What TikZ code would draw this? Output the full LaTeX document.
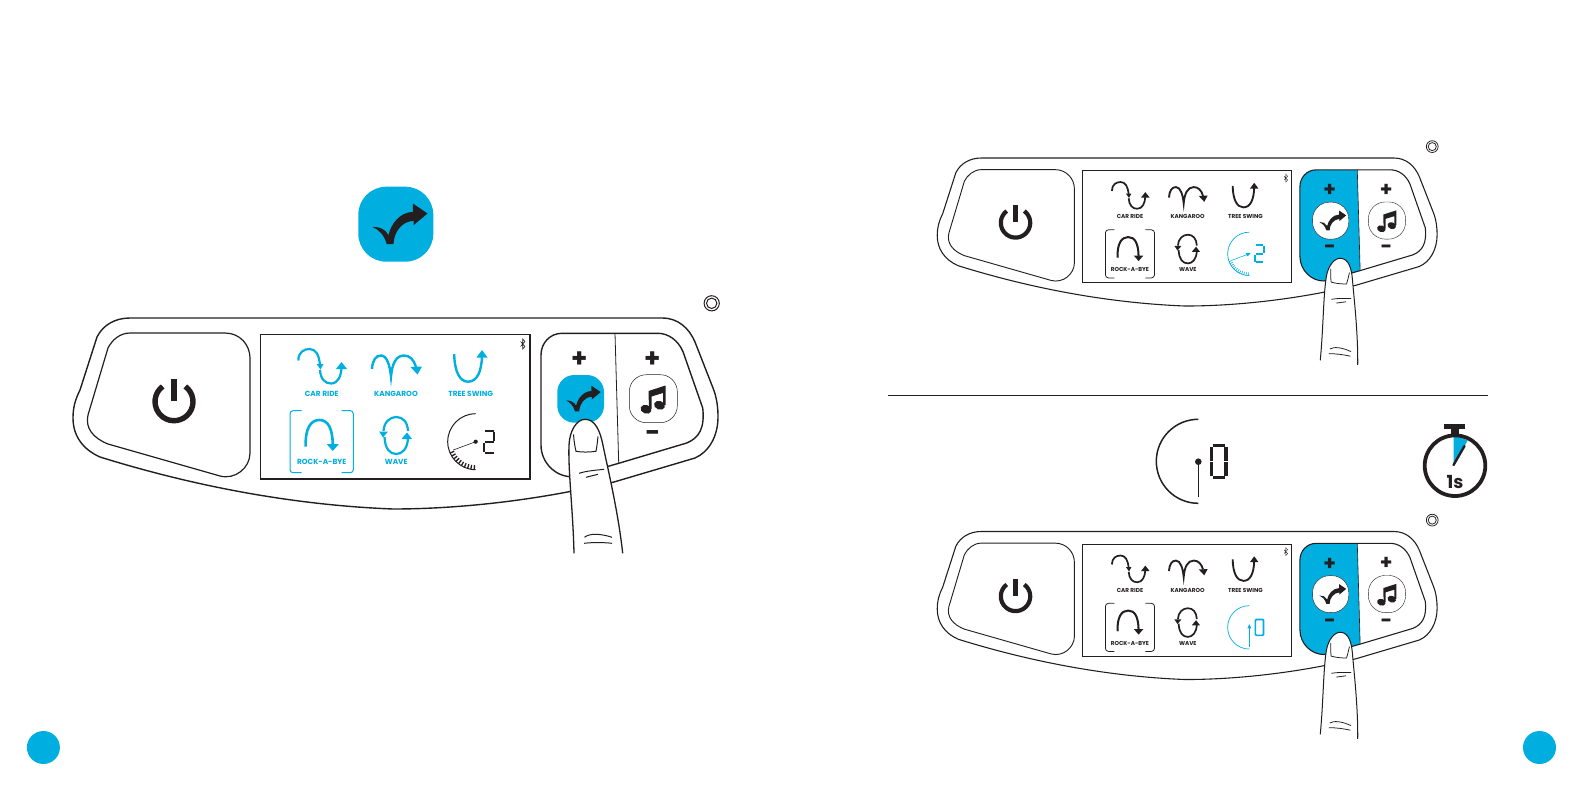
\documentclass[tikz,border=0pt]{standalone}
\usepackage{fontspec}
\setmainfont{Poppins}
\definecolor{cy}{HTML}{00AEE0}
\definecolor{ink}{HTML}{231F20}
\tikzset{
  lab/.style={font=\bfseries\fontsize{7.4}{8}\selectfont,inner sep=0pt,transform shape},
  sign/.style={font=\bfseries\fontsize{26}{26}\selectfont,inner sep=0pt,text=ink,transform shape},
  outl/.style={draw=ink,line width=1.4pt*\ps},
  thin outl/.style={draw=ink,line width=0.5pt*\ps}
}
\def\ps{1}
% arrow icon, centred on the button, drawn at the 75px size
\newcommand{\arrowicon}[1]{\fill[#1] (-23.3,2.7) .. controls (-17,5.5) and (-12,10) .. (-9,20) -- (-2.3,20) .. controls (-2,8) and (6,-3) .. (17.7,-3.3) -- (17.7,1) -- (31.7,-10.7) -- (17,-20.7) -- (17,-12.3) .. controls (4,-12) and (-5,0) .. (-7.3,11) .. controls (-10,5) and (-17,2.3) .. (-23.3,2.7) -- cycle;}
% seven segment digits, box 11 x 22
\newcommand{\digittwo}{\draw (1,0) -- (10,0) (10.8,1) -- (10.8,10) (1,11) -- (10,11) (0,12) -- (0,21) (1,22) -- (10,22);}
\newcommand{\digitzero}{\draw (1,0) -- (10,0) (10.8,1) -- (10.8,10.6) (10.8,11.4) -- (10.8,21) (0,1) -- (0,10.6) (0,11.4) -- (0,21) (1,22) -- (10,22);}
% gauge variants (in panel coordinates)
\newcommand{\gaugeblack}{%
  \draw[ink,line width=1pt*\ps] (475.7,413.7) arc[start angle=270,end angle=90,radius=28];
  \foreach \a in {93,100,...,160} \draw[ink,line width=1.3pt*\ps] ({475.7+23.5*cos(\a)},{441.7+23.5*sin(\a)}) -- ({475.7+28*cos(\a)},{441.7+28*sin(\a)});
  \fill[ink] (475.7,441.7) circle (2.1);
  \draw[ink,line width=0.6pt*\ps] (475.7,441.7) -- (453.3,450);
  \begin{scope}[shift={(483.5,430.7)},line width=2pt*\ps,ink]\digittwo\end{scope}}
\newcommand{\gaugeblue}{%
  \draw[cy,line width=0.9pt*\ps] (475.7,413.7) arc[start angle=270,end angle=90,radius=28];
  \foreach \a in {93,99,...,160} \draw[cy,line width=0.8pt*\ps] ({475.7+24*cos(\a)},{441.7+24*sin(\a)}) -- ({475.7+28*cos(\a)},{441.7+28*sin(\a)});
  \fill[cy] (477.5,441) -- (471,440.3) -- (473,445) -- cycle;
  \draw[cy,line width=0.7pt*\ps] (475,441.7) -- (453.3,450);
  \begin{scope}[shift={(483.5,430.7)},line width=2.6pt*\ps,cy]\digittwo\end{scope}}
\newcommand{\gaugezero}{%
  \draw[cy,line width=0.9pt*\ps] (475.7,413.7) arc[start angle=270,end angle=90,radius=28];
  \fill[cy] (475.7,437.5) -- (473.2,443) -- (478.2,443) -- cycle;
  \draw[cy,line width=0.8pt*\ps] (475.7,441) -- (475.7,467);
  \draw[cy,line width=2.2pt*\ps,rounded corners=1pt] (483.5,431.5) rectangle (494,452);}
% panel: #1 name, #2 icon colour, #3 gauge, #4 left pad fill, #5 arrow-button fill, #6 arrow colour, #7 border style of arrow button
\newcommand{\panel}[7]{%
  % outer shell
  \draw[outl] (130,318) -- (662,318) .. controls (678,318) and (689,328) .. (695,342) -- (713,388) .. controls (717,398) and (718,408) .. (718,417) .. controls (718,436) and (709,452) .. (695,458) -- (614,482) .. controls (540,500) and (460,509) .. (393,509) .. controls (290,505) and (190,485) .. (100,457) .. controls (82,449) and (73,435) .. (73,418) .. controls (73,408) and (75,400) .. (80,390) -- (97,337) .. controls (103,325) and (115,318) .. (130,318);
  % power pad
  \draw[ink,line width=1.2pt*\ps] (130,333) -- (225,333) .. controls (240,333) and (250,345) .. (250,358) -- (250,453) .. controls (250,468) and (235,480) .. (220,476) -- (108,444) .. controls (93,438) and (85,428) .. (88,415) -- (108,348) .. controls (112,340) and (120,333) .. (130,333);
  \draw[ink,line width=5.4pt*\ps] ([shift={(-53.5:19)}]174,401.7) arc[start angle=-53.5,end angle=233.5,radius=19];
  \fill[ink] (171,379) rectangle (177,400.7);
  % screen
  \draw[ink,line width=1.1pt*\ps] (260.5,334.5) rectangle (530,479);
  % bluetooth
  \draw[ink,line width=0.6pt*\ps] (520.5,341.5) -- (525,346.5) -- (522.7,349) -- (522.7,339) -- (525,341.5) -- (520.5,346.5);
  % car ride
  \draw[#2,line width=2.2pt*\ps] (298.3,360.5) .. controls (298.5,352) and (304,349) .. (309.5,349) .. controls (316,349) and (319,355) .. (320,365);
  \fill[#2] (320.5,369.5) -- (316.5,364) -- (323.5,364) -- cycle;
  \draw[#2,line width=2.2pt*\ps] (320,370) .. controls (320.5,379) and (325,383.5) .. (331,383.5) .. controls (338,383.5) and (341,376) .. (341.5,368);
  \fill[#2] (341.5,362) -- (336,369) -- (347,369) -- cycle;
  \node[lab,text=#2] (#1-car) at (321.7,393.7) {CAR RIDE};
  % kangaroo
  \draw[#2,line width=2.4pt*\ps] (372,369) .. controls (372.5,360) and (376,355.5) .. (381,355.5) .. controls (387,355.5) and (390,366) .. (391,376.7) .. controls (392,364) and (396,355.5) .. (404,355.5) .. controls (410,355.5) and (414,360) .. (416,367);
  \fill[#2] (417.5,374.5) -- (422,366.5) -- (410.5,367) -- cycle;
  \node[lab,text=#2] (#1-kan) at (396,393.7) {KANGAROO};
  % tree swing
  \draw[#2,line width=2.4pt*\ps] (454.2,354) .. controls (454.5,372) and (460,381.7) .. (468,381.7) .. controls (477,381.7) and (481.5,372) .. (482,356);
  \fill[#2] (482,350) -- (476.5,357.5) -- (487.5,357.5) -- cycle;
  \node[lab,text=#2] (#1-tre) at (470.7,393.7) {TREE SWING};
  % rock-a-bye
  \draw[#2,line width=2.6pt*\ps] (305.7,446.7) .. controls (305,428) and (311,420) .. (319.3,420) .. controls (328,420) and (332.5,428) .. (332.8,445);
  \fill[#2] (332.8,451) -- (326.7,444) -- (338.9,444) -- cycle;
  \draw[#2,line width=1pt*\ps,rounded corners=3pt] (301.7,410.7) -- (290,410.7) -- (290,472.7) -- (301.7,472.7);
  \draw[#2,line width=1pt*\ps,rounded corners=3pt] (341.7,410.7) -- (353.3,410.7) -- (353.3,472.7) -- (341.7,472.7);
  \node[lab,text=#2] (#1-roc) at (321.7,462.3) {ROCK-A-BYE};
  % wave
  \draw[#2,line width=2.2pt*\ps] (383.5,431) .. controls (384,422) and (390,417) .. (396.3,417) .. controls (403,417) and (407.5,422) .. (408,431);
  \fill[#2] (383,437.5) -- (379,431.5) -- (388,431.5) -- cycle;
  \draw[#2,line width=2.2pt*\ps] (408,438) .. controls (407.5,449) and (402,454) .. (396.3,454) .. controls (390,454) and (385,449) .. (384.5,437);
  \fill[#2] (407,432.5) -- (401.5,439) -- (412,439) -- cycle;
  \node[lab,text=#2] (#1-wav) at (396.3,462.3) {WAVE};
  #3
  % pads
  \fill[#4] (615,333.3) -- (562,333.3) .. controls (550,333.3) and (541,343) .. (541,355) -- (541,445) .. controls (541,463) and (556,477) .. (572,476.7) -- (618.7,463.3) -- cycle;
  \draw[outl] (615,333.3) -- (562,333.3) .. controls (550,333.3) and (541,343) .. (541,355) -- (541,445) .. controls (541,463) and (556,477) .. (572,476.7) -- (618.7,463.3) -- (686.7,443) .. controls (699,438) and (705,428) .. (702.7,408) -- (683,351.7) .. controls (678,340) and (668,333.3) .. (658,333.3) -- cycle;
  \draw[ink,line width=0.8pt*\ps] (615,333.3) -- (618.7,463.3);
  % signs
  \node[sign] (#1-p1) at (579.3,360) {+};
  \node[sign] (#1-p2) at (652.3,359.5) {+};
  \node[sign] (#1-m1) at (579.3,436) {−};
  \node[sign] (#1-m2) at (652.3,436) {−};
  % arrow button
  \path[fill=#5,#7,rounded corners=17pt] (557.3,375) rectangle (604,422.7);
  \begin{scope}[shift={(580.7,398.8)},scale=0.63]\arrowicon{#6}\end{scope}
  % music button
  \path[fill=white,thin outl,rounded corners=17pt] (629.3,374.7) rectangle (677.3,422.7);
  \fill[ink,rotate around={-20:(646,409.3)}] (646,409.3) ellipse (5.6 and 4.3);
  \fill[ink,rotate around={-20:(659.5,405.3)}] (659.5,405.3) ellipse (5.6 and 4.3);
  \fill[ink] (648.5,391) -- (665.5,385.5) -- (665.5,405) -- (663,405) -- (663,393) -- (651.5,396.5) -- (651.5,409) -- (649,409) -- cycle;
  % camera ring
  \draw[ink,line width=1pt*\ps] (711.7,303.3) circle (7.6);
  \draw[ink,line width=1pt*\ps] (711.7,303.3) circle (5.2);
}
% finger, origin at the fingertip
\newcommand{\finger}{%
  \fill[white] (-11,150) -- (-11,134) .. controls (-12,91) and (-17,51) .. (-16,26) .. controls (-15.5,11) and (-8,0) .. (0,0) .. controls (10,0) and (15,11) .. (18,26) .. controls (22,46) and (33,91) .. (37.7,134) -- (37.7,150) -- cycle;
  \draw[ink,line width=1.3pt*\ps] (-11,134) .. controls (-12,91) and (-17,51) .. (-16,26) .. controls (-15.5,11) and (-8,0) .. (0,0) .. controls (10,0) and (15,11) .. (18,26) .. controls (22,46) and (33,91) .. (37.7,134);
  \draw[ink,line width=1pt*\ps] (-11.5,15) .. controls (-11,22) and (-10,28) .. (-9,32) .. controls (-3,33) and (4,33) .. (11,32) .. controls (12,27) and (12.5,22) .. (13,17);
  \draw[ink,line width=1pt*\ps] (-6,54) .. controls (2,51.5) and (10,51) .. (19,50);
  \draw[ink,line width=1pt*\ps] (1,58) -- (13,55);
  \draw[ink,line width=1pt*\ps] (-0.5,118) .. controls (4,114) and (15,114) .. (27,118);
  \draw[ink,line width=1pt*\ps] (-1,124) .. controls (8,123) and (18,123) .. (27,124);
}
\begin{document}
\begin{tikzpicture}[x=1pt,y=-1pt]
\useasboundingbox (0,0) rectangle (1584,792);
% page dots
\fill[cy] (43.4,747.5) circle (16.5);
\fill[cy] (1539.5,747.5) circle (16.5);
% stand-alone button
\fill[cy,rounded corners=28pt] (358.3,186.7) rectangle (433.3,261.7);
\begin{scope}[shift={(395.8,224.2)}]\arrowicon{ink}\end{scope}
% big panel
\panel{a}{cy}{\gaugeblack}{white}{cy}{ink}{}
\begin{scope}[shift={(585,419.3)}]\finger\end{scope}
% upper small panel
\def\ps{0.775}
\begin{scope}[shift={(937,158)},scale=0.775,shift={(-72.7,-318)}]
\panel{b}{ink}{\gaugeblue}{cy}{white}{ink}{thin outl}
\end{scope}
\begin{scope}[shift={(1341,258.3)},scale=0.775,rotate=-6.8]\finger\end{scope}
% lower small panel
\begin{scope}[shift={(937,531.5)},scale=0.775,shift={(-72.7,-318)}]
\panel{c}{ink}{\gaugezero}{cy}{white}{ink}{thin outl}
\end{scope}
\begin{scope}[shift={(1341,632.3)},scale=0.775,rotate=-6.8]\finger\end{scope}
\def\ps{1}
% divider
\coordinate (ruleL) at (888,395);
\coordinate (ruleR) at (1488,395);
\draw[ink,line width=1pt] (ruleL) -- (ruleR);
% large gauge
\draw[ink,line width=1.5pt] (1198.3,419.3) arc[start angle=270,end angle=90,radius=42];
\fill[ink] (1198.3,461.7) circle (3.3);
\draw[ink,line width=1pt] (1198.3,461.7) -- (1198.3,497);
\begin{scope}[shift={(1211.5,445.5)},xscale=1.35,yscale=1.45,line width=3.4pt,ink]\digitzero\end{scope}
% stopwatch
\fill[cy] (1453.5,465) -- (1453.5,436.5) .. controls (1458,437) and (1463,438) .. (1467.7,440.5) -- cycle;
\draw[ink,line width=3.8pt] (1455,465.7) circle (30.3);
\fill[ink] (1444,423.5) rectangle (1465,429);
\fill[ink] (1451,429) rectangle (1458.5,436);
\draw[ink,line width=2.4pt,line cap=round] (1453.5,465) -- (1464.5,446);
\node[font=\bfseries\fontsize{18}{18}\selectfont,inner sep=0pt,text=ink] (oneS) at (1455,481.5) {1s};
\end{tikzpicture}
\end{document}
